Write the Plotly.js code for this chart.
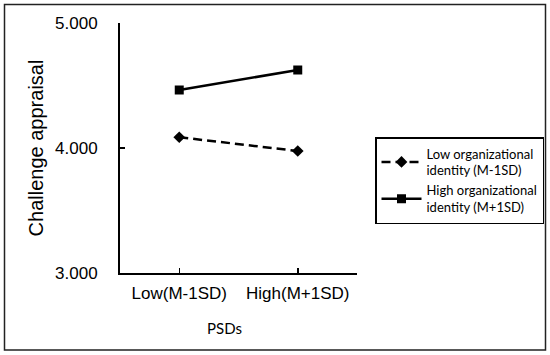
<!DOCTYPE html>
<html>
<head>
<meta charset="utf-8">
<script src="https://cdn.plot.ly/plotly-3.0.1.min.js"></script>
<style>html,body{margin:0;padding:0;background:#fff;}#chart{width:550px;height:355px;}</style>
</head>
<body>
<div id="chart"></div>
<script>
const categories = ["Low(M-1SD)", "High(M+1SD)"];
const catPos = [0, 1];
const lowIdentity = [4.086, 3.976];
const highIdentity = [4.464, 4.624];
const seriesNames = ["Low organizational<br>identity (M-1SD)", "High organizational<br>identity (M+1SD)"];
const yTicks = [3, 4, 5];
const xTitle = "PSDs";
const yTitle = "Challenge appraisal";

const calibriLike = "Lato, Open Sans, sans-serif";

const traces = [
  {
    x: catPos, y: lowIdentity, name: seriesNames[0], type: "scatter", mode: "lines+markers",
    line: {color: "#000", width: 2.5, dash: "9px,5px"},
    marker: {symbol: "diamond", size: 9, color: "#000"}
  },
  {
    x: catPos, y: highIdentity, name: seriesNames[1], type: "scatter", mode: "lines+markers",
    line: {color: "#000", width: 2.5},
    marker: {symbol: "square", size: 9, color: "#000"}
  }
];

const layout = {
  width: 550, height: 355,
  margin: {l: 120, r: 193, t: 23, b: 82, autoexpand: false},
  paper_bgcolor: "#fff", plot_bgcolor: "#fff",
  font: {family: "Liberation Sans, Arial, sans-serif", color: "#000"},
  showlegend: true,
  xaxis: {
    range: [-0.5, 1.5], tickvals: [0, 1, 1.5], ticktext: [categories[0], categories[1], ""],
    ticks: "inside", ticklen: 5, tickwidth: 1.5, tickcolor: "#000",
    showline: true, linecolor: "#000", linewidth: 2, showgrid: false, zeroline: false,
    tickfont: {size: 17, family: "Liberation Sans, Arial, sans-serif"},
    ticklabelstandoff: 4
  },
  yaxis: {
    range: [3, 5], tickvals: yTicks, tickformat: ".3f",
    ticks: "inside", ticklen: 5, tickwidth: 1.5, tickcolor: "#000",
    showline: true, linecolor: "#000", linewidth: 2, showgrid: false, zeroline: false,
    tickfont: {size: 17, family: "Liberation Sans, Arial, sans-serif"},
    ticklabelstandoff: 17,
    title: {text: yTitle, font: {size: 20, family: "Liberation Sans, Arial, sans-serif"}, standoff: 6}
  },
  annotations: [
    {text: xTitle, xref: "paper", yref: "paper", x: (224 - 120) / 237, y: (273 - 328) / 250,
     xanchor: "center", yanchor: "middle", showarrow: false,
     font: {size: 15, family: calibriLike, color: "#000"}}
  ],
  legend: {
    x: (375 - 120) / 237, y: (273 - 137) / 250, xanchor: "left", yanchor: "top",
    bordercolor: "#000", borderwidth: 1.5, bgcolor: "#fff",
    font: {size: 13, family: calibriLike},
    tracegroupgap: 6, itemwidth: 40
  },
  shapes: [
    {type: "rect", xref: "paper", yref: "paper",
     x0: (4.5 - 120) / 237, x1: (545.5 - 120) / 237,
     y0: (273 - 350) / 250, y1: (273 - 4.5) / 250,
     line: {color: "#222", width: 1.5}, fillcolor: "rgba(0,0,0,0)", layer: "below"}
  ]
};

Plotly.newPlot("chart", traces, layout, {displayModeBar: false, staticPlot: true});
</script>
</body>
</html>
